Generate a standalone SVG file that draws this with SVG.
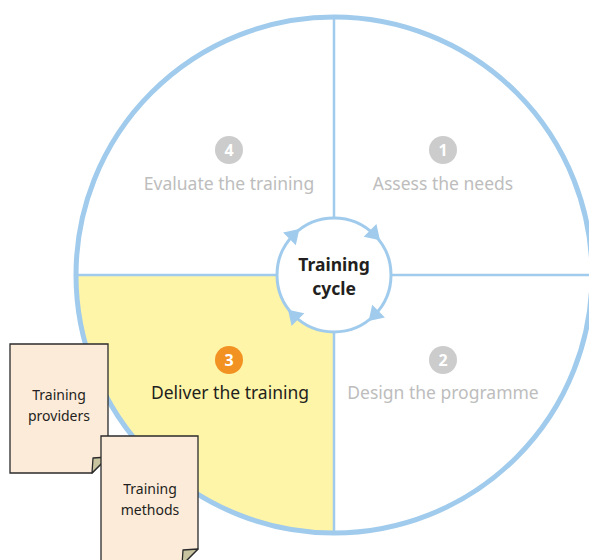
<svg xmlns="http://www.w3.org/2000/svg" width="589" height="560" viewBox="0 0 589 560">
<style>
.ring{fill:none;stroke:#a0cbec;stroke-width:5}
.spoke{stroke:#a0cbec;stroke-width:2.5;fill:none}
.inner{fill:#fff;stroke:#a0cbec;stroke-width:3}
.ah{fill:#a0cbec}
.lbl{font-family:"Noto Sans","Liberation Sans",sans-serif;font-size:17.5px;text-anchor:middle}
.dim{fill:#bdbdbd}
.dark{fill:#231f20}
.num{font-family:"Noto Sans","Liberation Sans",sans-serif;font-size:16px;font-weight:bold;fill:#fff;text-anchor:middle}
.page{fill:#fdebd9;stroke:#2b2b2b;stroke-width:1.3}
.fold{fill:#c8c4a0;stroke:#2b2b2b;stroke-width:1.3;stroke-linejoin:round}
.doc{font-family:"Noto Sans","Liberation Sans",sans-serif;font-size:14px;fill:#231f20;text-anchor:middle}
.center{font-family:"Noto Sans","Liberation Sans",sans-serif;font-size:17.5px;font-weight:bold;fill:#231f20;text-anchor:middle}
</style>
<defs>
<polygon id="arrowhead" class="ah" points="342,218 328,209 328,227"/>
</defs>
<g id="quadrant-deliver">
<path d="M334,275 H76 A258,258 0 0 0 334,533 Z" fill="#fff5a8"/>
</g>
<g id="connectors">
<line class="spoke" x1="334" y1="16" x2="334" y2="534"/>
<line class="spoke" x1="75" y1="275" x2="592" y2="275"/>
<circle class="ring" cx="334" cy="275" r="258"/>
</g>
<g id="training-cycle">
<circle class="inner" cx="334" cy="275" r="57"/>
<use href="#arrowhead" transform="rotate(45 334 275)"/>
<use href="#arrowhead" transform="rotate(135 334 275)"/>
<use href="#arrowhead" transform="rotate(225 334 275)"/>
<use href="#arrowhead" transform="rotate(315 334 275)"/>
<text class="center" x="334" y="271">Training</text>
<text class="center" x="334" y="295">cycle</text>
</g>
<g id="step1">
<circle cx="443" cy="150" r="14" fill="#cccccc"/>
<text class="num" x="443" y="155.8">1</text>
<text class="lbl dim" x="443" y="190">Assess the needs</text>
</g>
<g id="step2">
<circle cx="443" cy="360" r="14" fill="#cccccc"/>
<text class="num" x="443" y="365.8">2</text>
<text class="lbl dim" x="443" y="399">Design the programme</text>
</g>
<g id="step3">
<circle cx="229" cy="360" r="14" fill="#f29222"/>
<text class="num" x="229" y="365.8">3</text>
<text class="lbl dark" x="230" y="399">Deliver the training</text>
</g>
<g id="step4">
<circle cx="229" cy="150" r="14" fill="#cccccc"/>
<text class="num" x="229" y="155.8">4</text>
<text class="lbl dim" x="229" y="190">Evaluate the training</text>
</g>
<g id="doc-providers">
<path class="page" d="M10,344 H108 V457 L92,473 H10 Z"/>
<path class="fold" d="M92,473 L93,458 L108,457 Z"/>
<text class="doc" x="59" y="400">Training</text>
<text class="doc" x="59" y="421">providers</text>
</g>
<g id="doc-methods">
<path class="page" d="M101,436 H198 V549 L182,565 H101 Z"/>
<path class="fold" d="M182,565 L183,550 L198,549 Z"/>
<text class="doc" x="150" y="494">Training</text>
<text class="doc" x="150" y="515">methods</text>
</g>
</svg>
